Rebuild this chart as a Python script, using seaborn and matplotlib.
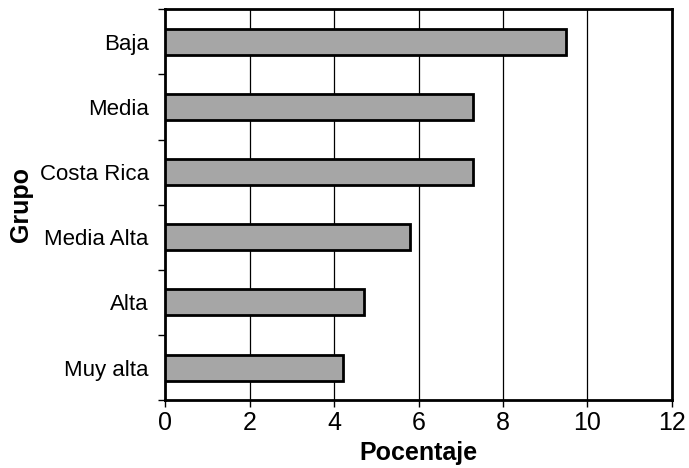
import seaborn as sns
import matplotlib.pyplot as plt
import pandas as pd
import numpy as np

# Porcentaje por grupo
grupos = ["Baja", "Media", "Costa Rica", "Media Alta", "Alta", "Muy alta"]
porcentaje = [9.5, 7.3, 7.3, 5.8, 4.7, 4.2]
xticks = [0, 2, 4, 6, 8, 10, 12]

df = pd.DataFrame({"Grupo": grupos, "Pocentaje": porcentaje})

sns.set_style("white")
plt.rcParams["font.family"] = ["Liberation Sans", "DejaVu Sans"]
plt.rcParams["text.color"] = "black"
plt.rcParams["axes.labelcolor"] = "black"
plt.rcParams["xtick.color"] = "black"
plt.rcParams["ytick.color"] = "black"

fig, ax = plt.subplots(figsize=(6.89, 4.68), dpi=100)
sns.barplot(data=df, x="Pocentaje", y="Grupo", orient="h", color="#a6a6a6",
            saturation=1, width=0.4, edgecolor="black", linewidth=2, ax=ax, zorder=3)

ax.set_xlim(0, 12)
ax.set_ylim(len(grupos) - 0.5, -0.5)
ax.set_xticks(xticks)
ax.set_xticklabels([str(t) for t in xticks], fontsize=18)
ax.tick_params(axis="y", labelsize=16, length=0, pad=12)
ax.tick_params(axis="x", length=5, width=1, direction="out", pad=3, bottom=True)
ax.set_yticks(np.arange(len(grupos) + 1) - 0.5, minor=True)
ax.tick_params(axis="y", which="minor", length=5, width=1, left=True)

for t in xticks[1:-1]:
    ax.axvline(t, color="black", linewidth=0.9, zorder=1)

for s in ax.spines.values():
    s.set_linewidth(2)
    s.set_color("black")

ax.set_xlabel("Pocentaje", fontsize=18, fontweight="bold", labelpad=4)
ax.set_ylabel("Grupo", fontsize=18, fontweight="bold", labelpad=5)

plt.subplots_adjust(left=0.24, right=0.975, top=0.98, bottom=0.145)
plt.savefig("out.png")
